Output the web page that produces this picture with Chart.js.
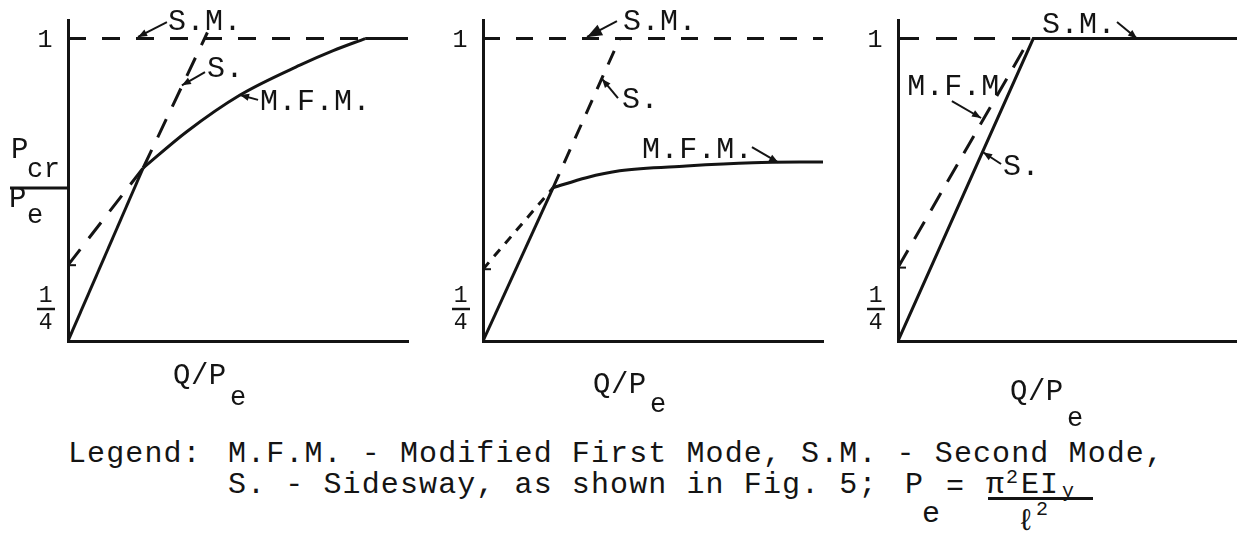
<!DOCTYPE html>
<html>
<head>
<meta charset="utf-8">
<script src="https://cdn.jsdelivr.net/npm/chart.js@4.4.1/dist/chart.umd.min.js"></script>
<style>
body { margin:0; background:#fff; width:1237px; height:543px; overflow:hidden; position:relative; font-family:"Liberation Mono", monospace; color:#141414; }
canvas { position:absolute; top:0; }
.leg { position:absolute; font-size:30px; line-height:30px; white-space:pre; letter-spacing:1.1px; }
.peq { font-size:20px; line-height:20px; }
.barra { position:absolute; height:3px; background:#141414; }
</style>
</head>
<body>
<canvas id="g1" width="420" height="430" style="left:0px"></canvas>
<canvas id="g2" width="420" height="430" style="left:420px"></canvas>
<canvas id="g3" width="397" height="430" style="left:840px"></canvas>

<div class="leg" style="left:68px;top:439px">Legend:</div>
<div class="leg" style="left:228px;top:439px">M.F.M. - Modified First Mode, S.M. - Second Mode,</div>
<div class="leg" style="left:228px;top:470px">S. - Sidesway, as shown in Fig. 5;</div>
<div class="leg" style="left:905px;top:470px">P</div>
<div class="leg" style="left:922px;top:499px">e</div>
<div class="leg" style="left:946px;top:472px">=</div>
<div class="leg" style="left:986px;top:470px">π</div>
<div class="leg peq" style="left:1006px;top:468px">2</div>
<div class="leg" style="left:1021px;top:470px">EI</div>
<div class="leg peq" style="left:1062px;top:482px">y</div>
<div class="barra" style="left:988px;top:497px;width:105px"></div>
<div class="leg" style="left:1017px;top:507px">ℓ</div>
<div class="leg peq" style="left:1036px;top:500px">2</div>

<script>
window.onload = function () {
    init();
};

var COR = '#141414';
var FONTE = '"Liberation Mono", "DejaVu Sans Mono", monospace';

// eixo y: P_cr/P_e de 1/4 ate 1 (um pouco de folga em cima)
var yMin = 0.25;
var yMax = 1.046;

// painel 1
var p1SmX = [0, 0.874];
var p1SmY = [1, 1];
var p1SCheioX = [0, 0.221];
var p1SCheioY = [0.25, 0.679];
var p1STracX = [0.221, 0.41];
var p1STracY = [0.679, 1.015];
var p1MfmTracX = [0, 0.221];
var p1MfmTracY = [0.438, 0.679];
var p1MfmX = [0.221, 0.349, 0.506, 0.682, 0.78, 0.874];
var p1MfmY = [0.679, 0.769, 0.86, 0.934, 0.97, 1];
var p1TopoX = [0.874, 1];
var p1TopoY = [1, 1];

// painel 2
var p2SmX = [0, 1];
var p2SmY = [1, 1];
var p2SCheioX = [0, 0.206];
var p2SCheioY = [0.25, 0.63];
var p2STracX = [0.206, 0.402];
var p2STracY = [0.63, 1];
var p2MfmTracX = [0, 0.206];
var p2MfmTracY = [0.428, 0.63];
var p2MfmX = [0.206, 0.304, 0.402, 0.598, 0.794, 1];
var p2MfmY = [0.63, 0.655, 0.672, 0.684, 0.692, 0.694];

// painel 3
var p3SmX = [0, 0.39];
var p3SmY = [1, 1];
var p3SX = [0, 0.399, 1];
var p3SY = [0.25, 1, 1];
var p3MfmTracX = [0, 0.389];
var p3MfmTracY = [0.432, 1];

function pontos(xs, ys) {
    return xs.map(function (x, i) {
        return {x: x, y: ys[i]};
    });
}

function serie(xs, ys, tracejado, curva) {
    return {
        data: pontos(xs, ys),
        borderColor: COR,
        borderWidth: 3,
        borderDash: tracejado || [],
        pointRadius: 0,
        fill: false,
        tension: curva ? 0.4 : 0,
        cubicInterpolationMode: curva ? 'monotone' : 'default'
    };
}

function texto(ctx, s, x, y, tam, alinh) {
    ctx.font = tam + 'px ' + FONTE;
    ctx.textAlign = alinh || 'left';
    ctx.fillText(s, x, y);
}

function linha(ctx, x0, y0, x1, y1, larg) {
    ctx.lineWidth = larg;
    ctx.beginPath();
    ctx.moveTo(x0, y0);
    ctx.lineTo(x1, y1);
    ctx.stroke();
}

// textos, setas e rotulos dos eixos
var rotulos = {
    id: 'rotulos',
    afterDraw: function (chart, args, opts) {
        var ctx = chart.ctx;
        var sx = chart.scales.x, sy = chart.scales.y;
        var a = chart.chartArea;
        ctx.save();
        ctx.fillStyle = COR;
        ctx.strokeStyle = COR;
        ctx.textBaseline = 'alphabetic';
        ctx.letterSpacing = '0.5px';

        (opts.setas || []).forEach(function (s) {
            texto(ctx, s.nome, sx.getPixelForValue(s.txt[0]), sy.getPixelForValue(s.txt[1]), 30);
            var x0 = sx.getPixelForValue(s.de[0]), y0 = sy.getPixelForValue(s.de[1]);
            var x1 = sx.getPixelForValue(s.ate[0]), y1 = sy.getPixelForValue(s.ate[1]);
            linha(ctx, x0, y0, x1, y1, 2);
            var ang = Math.atan2(y1 - y0, x1 - x0);
            var L = s.ponta || 9, W = L * 0.4;
            ctx.beginPath();
            ctx.moveTo(x1, y1);
            ctx.lineTo(x1 - L * Math.cos(ang) + W * Math.sin(ang), y1 - L * Math.sin(ang) - W * Math.cos(ang));
            ctx.lineTo(x1 - L * Math.cos(ang) - W * Math.sin(ang), y1 - L * Math.sin(ang) + W * Math.cos(ang));
            ctx.closePath();
            ctx.fill();
        });

        // "1" e "1/4" no eixo y
        texto(ctx, '1', a.left - 15, sy.getPixelForValue(1) + 8, 25, 'right');
        texto(ctx, '1', a.left - 22, a.bottom - 39, 23, 'center');
        linha(ctx, a.left - 31, a.bottom - 32, a.left - 13, a.bottom - 32, 2.5);
        texto(ctx, '4', a.left - 22, a.bottom - 12, 23, 'center');

        // marca onde M.F.M. comeca no eixo
        if (opts.marca) {
            var ym = sy.getPixelForValue(opts.marca);
            linha(ctx, a.left, ym, a.left + 8, ym, 2);
        }

        // Q/P_e
        var q = opts.eixoX;
        texto(ctx, 'Q/P', a.left + q.dx, q.base, 29);
        texto(ctx, 'e', a.left + q.dx + 57, q.sub, 27);

        // P_cr / P_e so no primeiro
        if (opts.tituloY) {
            texto(ctx, 'P', 11, 158, 29);
            texto(ctx, 'cr', 27, 177, 27);
            linha(ctx, 10, 188, a.left, 188, 3);
            texto(ctx, 'P', 9, 207, 29);
            texto(ctx, 'e', 27, 223, 27);
        }
        ctx.restore();
    }
};

function opcoes(pad, extra) {
    var eixo = {
        type: 'linear',
        grid: {display: false, drawTicks: false},
        ticks: {display: false},
        border: {display: true, width: 3, color: COR}
    };
    return {
        responsive: false,
        animation: false,
        events: [],
        layout: {padding: pad},
        scales: {
            x: Object.assign({min: 0, max: 1}, eixo),
            y: Object.assign({min: yMin, max: yMax}, eixo)
        },
        plugins: {
            legend: {display: false},
            tooltip: {enabled: false},
            rotulos: extra
        }
    };
}

function init() {
    var trac = [18, 16];

    new Chart(document.getElementById('g1'), {
        type: 'line',
        data: {datasets: [
            serie(p1SmX, p1SmY, trac),
            serie(p1SCheioX, p1SCheioY),
            serie(p1STracX, p1STracY, [20, 14]),
            serie(p1MfmTracX, p1MfmTracY, [20, 14]),
            serie(p1MfmX, p1MfmY, null, true),
            serie(p1TopoX, p1TopoY)
        ]},
        options: opcoes({left: 68, right: 12, top: 20, bottom: 89}, {
            tituloY: true,
            marca: p1MfmTracY[0],
            eixoX: {dx: 105, base: 384, sub: 405},
            setas: [
                {nome: 'S.M.', txt: [0.294, 1.021], de: [0.291, 1.041], ate: [0.206, 1.004]},
                {nome: 'S.', txt: [0.409, 0.905], de: [0.403, 0.917], ate: [0.335, 0.884]},
                {nome: 'M.F.M.', txt: [0.565, 0.823], de: [0.559, 0.848], ate: [0.506, 0.86]}
            ]
        })
    });

    new Chart(document.getElementById('g2'), {
        type: 'line',
        data: {datasets: [
            serie(p2SmX, p2SmY, [17, 16]),
            serie(p2SCheioX, p2SCheioY),
            serie(p2STracX, p2STracY, [15, 12]),
            serie(p2MfmTracX, p2MfmTracY, [9, 8]),
            serie(p2MfmX, p2MfmY, null, true)
        ]},
        options: opcoes({left: 63, right: 17, top: 20, bottom: 89}, {
            marca: p2MfmTracY[0],
            eixoX: {dx: 110, base: 393, sub: 412},
            setas: [
                {nome: 'S.M.', txt: [0.412, 1.021], de: [0.394, 1.043], ate: [0.306, 1.004], ponta: 15},
                {nome: 'S.', txt: [0.409, 0.828], de: [0.397, 0.852], ate: [0.35, 0.9]},
                {nome: 'M.F.M.', txt: [0.468, 0.704], de: [0.791, 0.731], ate: [0.868, 0.693]}
            ]
        })
    });

    new Chart(document.getElementById('g3'), {
        type: 'line',
        data: {datasets: [
            serie(p3SmX, p3SmY, [21, 17]),
            serie(p3SX, p3SY),
            serie(p3MfmTracX, p3MfmTracY, [20, 13])
        ]},
        options: opcoes({left: 58, right: 0, top: 20, bottom: 89}, {
            marca: p3MfmTracY[0],
            eixoX: {dx: 112, base: 400, sub: 426},
            setas: [
                {nome: 'S.M.', txt: [0.425, 1.014], de: [0.646, 1.041], ate: [0.705, 1.0]},
                {nome: 'M.F.M', txt: [0.027, 0.86], de: [0.159, 0.845], ate: [0.245, 0.803]},
                {nome: 'S.', txt: [0.31, 0.662], de: [0.304, 0.689], ate: [0.251, 0.718]}
            ]
        })
    });
}

Chart.register(rotulos);
</script>
</body>
</html>
